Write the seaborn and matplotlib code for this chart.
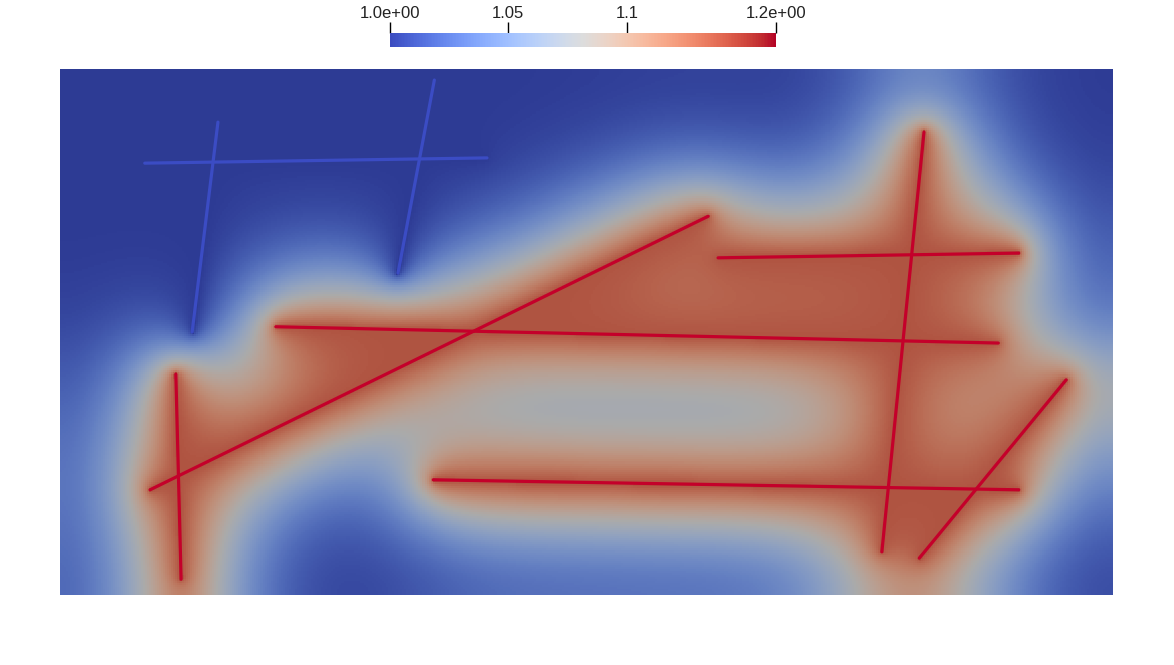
import numpy as np
import pandas as pd
import seaborn as sns
import matplotlib.pyplot as plt
from matplotlib.colors import ListedColormap, Normalize
import matplotlib.cm as cm

sns.set_theme(style="white")
plt.rcParams['font.family'] = ['Liberation Sans', 'DejaVu Sans']

# fracture segments in domain units (domain is 2 x 1), start/end points
frac_x0 = [0.161, 0.300, 0.711, 0.171, 0.410, 1.250, 1.641, 0.220, 0.709, 1.911]
frac_y0 = [0.821, 0.899, 0.979, 0.200, 0.510, 0.641, 0.880, 0.420, 0.219, 0.409]
frac_x1 = [0.811, 0.251, 0.642, 1.231, 1.782, 1.821, 1.561, 0.230, 1.821, 1.632]
frac_y1 = [0.831, 0.500, 0.612, 0.720, 0.479, 0.650, 0.082, 0.030, 0.200, 0.070]
frac_value = [1.0003, 1.0003, 1.0003, 1.1625, 1.1625, 1.1625, 1.1625, 1.1625, 1.1625, 1.1625]

vmin, vmax = 1.0003, 1.1625
cbar_ticks = [1.0003, 1.05, 1.1, 1.1625]
cbar_labels = ['1.0e+00', '1.05', '1.1', '1.2e+00']

# grid for the pressure field (rows from top to bottom)
nx, ny = 520, 260
h = 1.0 / ny
xs = (np.arange(nx) + 0.5) * h
ys = 1 - (np.arange(ny) + 0.5) * h
X, Y = np.meshgrid(xs, ys)


def seg_dist(x0, y0, x1, y1):
    dx, dy = x1 - x0, y1 - y0
    t = ((X - x0) * dx + (Y - y0) * dy) / (dx * dx + dy * dy)
    t = np.clip(t, 0, 1)
    return np.hypot(X - (x0 + t * dx), Y - (y0 + t * dy))


# fractures hold (most of) their pressure, the matrix starts at the low value
coupling = 0.85
p = np.full((ny, nx), vmin)
fixed = np.zeros((ny, nx), dtype=bool)
fixed_val = np.full((ny, nx), vmin)
for x0, y0, x1, y1, v in zip(frac_x0, frac_y0, frac_x1, frac_y1, frac_value):
    m = seg_dist(x0, y0, x1, y1) < 0.75 * h
    fixed |= m
    fixed_val[m] = vmin + coupling * (v - vmin)

# explicit diffusion, no-flow outer boundary
r = 0.24
diffusion_time = 0.0085
for _ in range(int(diffusion_time / (r * h * h))):
    pp = np.pad(p, 1, mode='edge')
    p = p + r * (pp[:-2, 1:-1] + pp[2:, 1:-1] + pp[1:-1, :-2] + pp[1:-1, 2:] - 4 * p)
    p[fixed] = fixed_val[fixed]
field = pd.DataFrame(p)

# surface looks lit/darker than the legend colours
base = plt.get_cmap('coolwarm')(np.linspace(0, 1, 256))
base[:, :3] *= 0.77
shaded = ListedColormap(base)

fig = plt.figure(figsize=(11.74, 6.65), dpi=100)
ax = fig.add_axes([60 / 1174, 1 - 595 / 665, 1053 / 1174, 526 / 665])
sns.heatmap(field, cmap=shaded, vmin=vmin, vmax=vmax, cbar=False, ax=ax,
            xticklabels=False, yticklabels=False, rasterized=True)

# fractures as lines, mapped into heatmap cell coordinates
rows = []
for i, (x0, y0, x1, y1, v) in enumerate(zip(frac_x0, frac_y0, frac_x1, frac_y1, frac_value)):
    kind = 'high' if v > 1.1 else 'low'
    rows.append({'seg': i, 'x': x0 / h, 'y': (1 - y0) / h, 'kind': kind})
    rows.append({'seg': i, 'x': x1 / h, 'y': (1 - y1) / h, 'kind': kind})
lines = pd.DataFrame(rows)
sns.lineplot(data=lines, x='x', y='y', units='seg', estimator=None, sort=False,
             hue='kind', palette={'high': '#c4002a', 'low': '#3b4cc4'},
             linewidth=2.3, legend=False, ax=ax)
ax.set_xlim(0, nx)
ax.set_ylim(ny, 0)
ax.axis('off')

# colour legend on top
cax = fig.add_axes([390 / 1174, 1 - 47 / 665, 386 / 1174, 14 / 665])
sm = cm.ScalarMappable(norm=Normalize(vmin, vmax), cmap='coolwarm')
cb = fig.colorbar(sm, cax=cax, orientation='horizontal')
cb.outline.set_visible(False)
cb.set_ticks(cbar_ticks)
cb.set_ticklabels(cbar_labels)
cax.xaxis.set_ticks_position('top')
cax.tick_params(axis='x', direction='out', length=8, width=1, color='black',
                labelsize=12, labelcolor='#222222', pad=1)

fig.savefig('out.png', dpi=100, facecolor='white')
